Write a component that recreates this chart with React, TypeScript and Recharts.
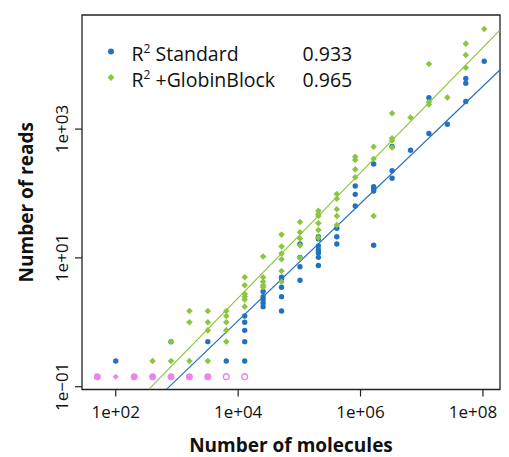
import { ScatterChart, Scatter, XAxis, YAxis, ReferenceArea, ReferenceLine } from 'recharts';

// spike-in columns (number of molecules)
const molecules = [
  50, 100, 200, 400, 800, 1600, 3200, 6400, 12800, 25600, 51200, 102400,
  204800, 409600, 819200, 1638400, 3276800, 6553600, 13107200, 26214400,
  52428800, 104857600,
];

// reads per column, Standard protocol
const standardReads: number[][] = [
  [], [0.25], [], [], [0.5], [], [0.5], [0.25],
  [1.25, 1.0, 0.75, 0.5, 0.25],
  [3, 2.5, 2.25, 2, 1.75],
  [5, 4.75, 3.5, 2.5, 1.5],
  [16.4, 10.2, 7.3, 4.5],
  [21.3, 19.7, 15.3, 13.3, 11.9, 10.2, 7.6],
  [28.8, 21.3, 16.4],
  [131, 97, 64],
  [287, 128, 117, 109, 15.7],
  [537, 226, 172],
  [469],
  [3070, 855],
  [1190],
  [6100, 5140, 2680],
  [11300],
];

// reads per column, +GlobinBlock
const globinReads: number[][] = [
  [], [], [], [0.25],
  [0.5, 0.25],
  [1.5, 1.0, 0.25],
  [1.5, 1.0, 0.75, 0.25],
  [1.5, 1.25, 1.0, 0.75, 0.5],
  [5, 3.75, 2.75, 2.5, 2.25, 1.75],
  [10.5, 5, 4.25, 3.75, 3.5],
  [23, 15, 11.7, 9.5, 6.25, 4.25],
  [36, 25, 20, 15.6, 10],
  [54, 48, 44.7, 34.5, 27, 20.6],
  [98, 83, 57, 44.7, 32.4],
  [372, 331, 237, 178],
  [533, 347, 44.7],
  [1760, 720, 665, 518],
  [1510],
  [10250, 2635, 2410],
  [3100],
  [21200, 14150, 8980],
  [35800],
];

// not detected (floor value), first columns
const undetectedReads = [0.143, 0.143, 0.143, 0.143, 0.143, 0.143, 0.143, 0.143, 0.143];
const undetectedMarks = ['dot', 'diamond', 'dot', 'dot', 'dot', 'dot', 'dot', 'ring', 'ring'];

// fitted lines, endpoints
const standardFit = [{ x: 680, y: 0.0915 }, { x: 1.89e8, y: 8260 }];
const globinFit = [{ x: 350, y: 0.0915 }, { x: 1.89e8, y: 34400 }];

const legendNames = ['Standard', '+GlobinBlock'];
const legendR2 = ['0.933', '0.965'];

const xTicks = [1e2, 1e4, 1e6, 1e8];
const yTicks = [1e-1, 1e1, 1e3];

const BLUE = '#2372c2';
const GREEN = '#8cc63e';
const PINK = '#ee82ee';
const FONT = '"Open Sans", "Noto Sans", sans-serif';

const toPoints = (rows: number[][]) =>
  rows.flatMap((vals, i) => vals.map((v) => ({ x: molecules[i], y: v })));

const standardData = toPoints(standardReads);
const globinData = toPoints(globinReads);
const undetectedData = undetectedReads.map((v, i) => ({ x: molecules[i], y: v, mark: undetectedMarks[i] }));

function sci(v: number) {
  const e = Math.round(Math.log10(v));
  const sign = e < 0 ? '\u2212' : '+';
  return `1e${sign}${String(Math.abs(e)).padStart(2, '0')}`;
}

const XTick = ({ x, y, payload }: any) => (
  <text x={x} y={y + 21} textAnchor="middle" fontSize={17} fill="#111" fontFamily={FONT}>
    {sci(payload.value)}
  </text>
);

const YTick = ({ x, y, payload }: any) => (
  <text
    x={x - 7}
    y={y}
    transform={`rotate(-90 ${x - 7} ${y})`}
    textAnchor="middle"
    fontSize={17}
    fill="#111"
    fontFamily={FONT}
  >
    {sci(payload.value)}
  </text>
);

const diamond = (cx: number, cy: number, r: number, fill: string) => (
  <path d={`M${cx},${cy - r}L${cx + r},${cy}L${cx},${cy + r}L${cx - r},${cy}Z`} fill={fill} />
);

const blueDot = (p: any) => <circle cx={p.cx} cy={p.cy} r={2.7} fill={BLUE} />;
const greenDiamond = (p: any) => diamond(p.cx, p.cy, 3.3, GREEN);
const pinkMark = (p: any) => {
  const m = p.payload.mark;
  if (m === 'diamond') return diamond(p.cx, p.cy, 3, PINK);
  if (m === 'ring') return <circle cx={p.cx} cy={p.cy} r={2.9} fill="none" stroke={PINK} strokeWidth={1.3} />;
  return <circle cx={p.cx} cy={p.cy} r={3.5} fill={PINK} />;
};

export default function App() {
  return (
    <div style={{ position: 'absolute', left: 0, top: 0, width: 509, height: 457, fontFamily: FONT, background: '#fff' }}>
      <ScatterChart width={509} height={457} margin={{ top: 15, right: 9, bottom: 0, left: 0 }}>
        <XAxis
          type="number"
          dataKey="x"
          scale="log"
          domain={[28.1, 1.9e8]}
          allowDataOverflow
          ticks={xTicks}
          tick={<XTick />}
          tickSize={7}
          tickMargin={0}
          tickLine={{ stroke: '#222', strokeWidth: 1.2 }}
          axisLine={false}
          height={67.5}
          label={(props: any) => {
            const vb = props.viewBox;
            return (
              <text x={vb.x + vb.width / 2} y={vb.y + 62.5} textAnchor="middle" fontSize={19} fontWeight={700} fill="#111" fontFamily={FONT}>
                Number of molecules
              </text>
            );
          }}
        />
        <YAxis
          type="number"
          dataKey="y"
          scale="log"
          domain={[0.0904, 59100]}
          allowDataOverflow
          ticks={yTicks}
          tick={<YTick />}
          tickSize={7}
          tickMargin={0}
          tickLine={{ stroke: '#222', strokeWidth: 1.2 }}
          axisLine={false}
          width={82}
          label={(props: any) => {
            const vb = props.viewBox;
            const cx = vb.x + 32.5;
            const cy = vb.y + vb.height / 2;
            return (
              <text x={cx} y={cy} transform={`rotate(-90 ${cx} ${cy})`} textAnchor="middle" fontSize={19} fontWeight={700} fill="#111" fontFamily={FONT}>
                Number of reads
              </text>
            );
          }}
        />
        <ReferenceLine segment={standardFit} stroke={BLUE} strokeWidth={1.2} ifOverflow="visible" />
        <ReferenceLine segment={globinFit} stroke={GREEN} strokeWidth={1.2} ifOverflow="visible" />
        <Scatter data={undetectedData} shape={pinkMark} isAnimationActive={false} />
        <Scatter data={standardData} shape={blueDot} isAnimationActive={false} />
        <Scatter data={globinData} shape={greenDiamond} isAnimationActive={false} />
        <ReferenceArea x1={28.1} x2={1.9e8} y1={0.0904} y2={59100} fill="none" stroke="#222" strokeWidth={1.3} ifOverflow="visible" />
      </ScatterChart>
      <svg width={509} height={457} style={{ position: 'absolute', left: 0, top: 0, pointerEvents: 'none' }}>
        <circle cx={111} cy={51.5} r={3} fill={BLUE} />
        {diamond(111, 77.5, 3.5, GREEN)}
        {legendNames.map((name, i) => (
          <g key={name} fontFamily={FONT} fontSize={19.5} fill="#111">
            <text x={131.5} y={60.5 + i * 26}>
              R<tspan fontSize={12} dy={-8}>2</tspan>
              <tspan dy={8}>{' ' + name}</tspan>
            </text>
            <text x={302.5} y={60.5 + i * 26}>{legendR2[i]}</text>
          </g>
        ))}
      </svg>
    </div>
  );
}
